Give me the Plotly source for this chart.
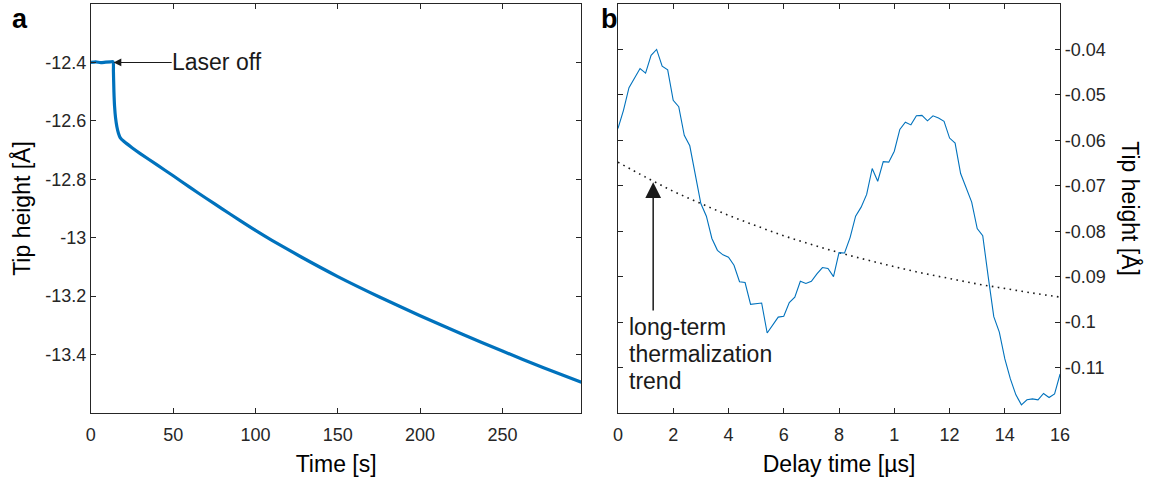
import plotly.graph_objects as go

W, H = 1155, 479
FONT = "Liberation Sans, Arial, sans-serif"
AX = "#262626"
BLUE = "#0072BD"

# ---- panel a data ----
time_s = [0, 3, 6, 9, 12, 13.5, 13.7, 14.0, 14.4, 15.0, 15.8, 16.8, 17.8, 20, 25, 30, 40,
          50, 60, 70, 80, 90, 100, 110, 127.8, 150, 175, 200, 225, 250, 275, 298]
tip_a = [-12.400, -12.398, -12.401, -12.399, -12.398, -12.398, -12.43, -12.50, -12.55,
         -12.59, -12.62, -12.643, -12.657, -12.670, -12.692, -12.712, -12.750, -12.788,
         -12.827, -12.865, -12.902, -12.939, -12.975, -13.009, -13.066, -13.133, -13.202,
         -13.267, -13.329, -13.388, -13.445, -13.495]

# ---- panel b data ----
delay_us = [0.0, 0.2, 0.4, 0.6, 0.8, 1.0, 1.2, 1.4, 1.6, 1.8, 2.0, 2.2, 2.4, 2.6, 2.8,
            3.0, 3.2, 3.4, 3.6, 3.8, 4.0, 4.2, 4.4, 4.6, 4.8, 5.0, 5.2, 5.4, 5.6, 5.8,
            6.0, 6.2, 6.4, 6.6, 6.8, 7.0, 7.2, 7.4, 7.6, 7.8, 8.0, 8.2, 8.4, 8.6, 8.8,
            9.0, 9.2, 9.4, 9.6, 9.8, 10.0, 10.2, 10.4, 10.6, 10.8, 11.0, 11.2, 11.4, 11.6,
            11.8, 12.0, 12.2, 12.4, 12.6, 12.8, 13.0, 13.2, 13.4, 13.6, 13.8, 14.0, 14.2,
            14.4, 14.6, 14.8, 15.0, 15.2, 15.4, 15.6, 15.8, 16.0]
tip_b = [-0.0574, -0.0534, -0.0484, -0.0464, -0.0442, -0.0452, -0.0413, -0.0400, -0.0437,
         -0.0445, -0.0512, -0.0526, -0.0589, -0.0612, -0.0673, -0.0739, -0.0767, -0.0816,
         -0.0842, -0.0852, -0.0857, -0.0875, -0.0911, -0.0913, -0.0961, -0.0960, -0.0958,
         -0.1024, -0.1005, -0.0989, -0.0987, -0.0957, -0.0945, -0.0910, -0.0915, -0.0910,
         -0.0894, -0.0880, -0.0882, -0.0900, -0.0847, -0.0848, -0.0814, -0.0767, -0.0747,
         -0.0719, -0.0662, -0.0690, -0.0647, -0.0648, -0.0624, -0.0576, -0.0560, -0.0566,
         -0.0546, -0.0545, -0.0557, -0.0546, -0.0551, -0.0558, -0.0595, -0.0606, -0.0673,
         -0.0706, -0.0736, -0.0794, -0.0810, -0.0901, -0.0988, -0.1022, -0.1081, -0.1125,
         -0.1160, -0.1182, -0.1171, -0.1169, -0.1171, -0.1157, -0.1166, -0.1158, -0.1114]

trend_x = [0, 1, 2, 3, 4, 5, 6, 7, 8, 9, 10, 11, 12, 13, 14, 15, 16]
trend_y = [-0.0648, -0.0681, -0.0712, -0.0739, -0.0765, -0.0788, -0.0810, -0.0829,
           -0.0847, -0.0863, -0.0878, -0.0892, -0.0904, -0.0916, -0.0926, -0.0936, -0.0945]

# ticks
a_xticks = [0, 50, 100, 150, 200, 250]
a_yticks = [-12.4, -12.6, -12.8, -13.0, -13.2, -13.4]
a_yticktext = ["-12.4", "-12.6", "-12.8", "-13", "-13.2", "-13.4"]
b_xticks = [0, 2, 4, 6, 8, 10, 12, 14, 16]
b_xticktext = ["0", "2", "4", "6", "8", "1", "12", "14", "16"]
b_yticks = [-0.11, -0.10, -0.09, -0.08, -0.07, -0.06, -0.05, -0.04]
b_yticktext = ["-0.11", "-0.1", "-0.09", "-0.08", "-0.07", "-0.06", "-0.05", "-0.04"]

fig = go.Figure()
fig.add_trace(go.Scatter(x=time_s, y=tip_a, mode="lines",
                         line=dict(color=BLUE, width=3.2, shape="spline", smoothing=0.6),
                         xaxis="x", yaxis="y", showlegend=False, hoverinfo="skip"))
fig.add_trace(go.Scatter(x=trend_x, y=trend_y, mode="lines",
                         line=dict(color="#1a1a1a", width=1.6, dash="1.6px,4.4px", shape="spline"),
                         xaxis="x2", yaxis="y2", showlegend=False, hoverinfo="skip"))
fig.add_trace(go.Scatter(x=delay_us, y=tip_b, mode="lines",
                         line=dict(color=BLUE, width=1.1), xaxis="x2", yaxis="y2",
                         showlegend=False, hoverinfo="skip"))

def ax(**kw):
    base = dict(showline=True, linecolor=AX, linewidth=1, mirror="ticks", ticks="inside",
                ticklen=5, tickwidth=1, tickcolor=AX, showgrid=False, zeroline=False,
                tickfont=dict(family=FONT, size=18, color=AX), tickmode="array")
    base.update(kw)
    return base

top = 1 - 4 / H
bot = 1 - 413 / H

fig.update_layout(
    width=W, height=H, margin=dict(l=0, r=0, t=0, b=0),
    paper_bgcolor="white", plot_bgcolor="white",
    font=dict(family=FONT, color=AX),
    xaxis=ax(domain=[87 / W, 584 / W], range=[0, 298], tickvals=a_xticks,
             ticktext=[str(v) for v in a_xticks], anchor="y", ticklabelstandoff=5,
             title=dict(text="Time [s]", font=dict(size=23, color="#000"), standoff=12)),
    yaxis=ax(domain=[bot, top], range=[-13.6, -12.2], tickvals=a_yticks,
             ticktext=a_yticktext, anchor="x",
             title=dict(text="Tip height [Å]", font=dict(size=23, color="#000"), standoff=8)),
    xaxis2=ax(domain=[621 / W, 1069 / W], range=[0, 16], tickvals=b_xticks,
              ticktext=b_xticktext, anchor="y2", ticklabelstandoff=5,
              title=dict(text="Delay time [µs]", font=dict(size=23, color="#000"), standoff=12)),
    yaxis2=ax(domain=[bot, top], range=[-0.12, -0.03], tickvals=b_yticks,
              ticktext=b_yticktext, anchor="x2", side="right"),
)

ann = []
# panel labels
ann.append(dict(text="<b>a</b>", x=15 / W, y=1 - 19 / H, xref="paper", yref="paper",
                showarrow=False, xanchor="center", yanchor="middle",
                font=dict(family=FONT, size=27, color="#000")))
ann.append(dict(text="<b>b</b>", x=612 / W, y=1 - 19 / H, xref="paper", yref="paper",
                showarrow=False, xanchor="center", yanchor="middle",
                font=dict(family=FONT, size=27, color="#000")))
# right y title
ann.append(dict(text="Tip height [Å]", x=1140 / W, y=1 - 208.5 / H, xref="paper", yref="paper",
                showarrow=False, textangle=90, xanchor="center", yanchor="middle",
                font=dict(family=FONT, size=23, color="#000")))
# Laser off arrow + text
ann.append(dict(x=13.8, y=-12.4, ax=50.0, ay=-12.4, xref="x", yref="y", axref="x", ayref="y",
                text="", showarrow=True, arrowhead=2, arrowsize=1.4, arrowwidth=1.1,
                arrowcolor="#1a1a1a"))
ann.append(dict(text="Laser off", x=47.8, y=-12.4, xref="x", yref="y", showarrow=False,
                xanchor="left", yanchor="middle",
                font=dict(family=FONT, size=23, color="#1a1a1a")))
# trend arrow + text
ann.append(dict(x=1.275, y=-0.0692, ax=1.275, ay=-0.0978, xref="x2", yref="y2",
                axref="x2", ayref="y2", text="", showarrow=True, arrowhead=2,
                arrowsize=2.1, arrowwidth=1.5, arrowcolor="#1a1a1a"))
for i, line in enumerate(["long-term", "thermalization", "trend"]):
    ann.append(dict(text=line, x=0.33, y=-0.0977 - i * 0.0060, xref="x2", yref="y2",
                    showarrow=False, xanchor="left", yanchor="top",
                    font=dict(family=FONT, size=23, color="#1a1a1a")))
fig.update_layout(annotations=ann)

fig.write_html("out.html")
